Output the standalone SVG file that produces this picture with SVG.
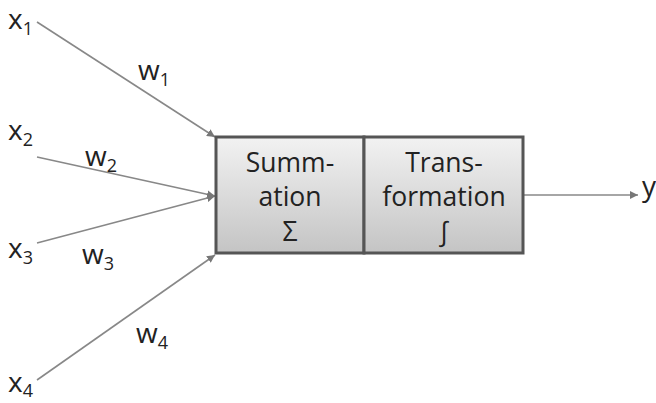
<svg xmlns="http://www.w3.org/2000/svg" width="656" height="403" viewBox="0 0 656 403">
<style>
text{font-family:"Open Sans","Liberation Sans",sans-serif;fill:#222;}
.lbl{font-size:28px;}
.sub{font-size:18px;}
.box{font-size:26.5px;text-anchor:middle;}
.conn{stroke:#888;stroke-width:1.6;fill:none;marker-end:url(#ah);}
.cell{fill:url(#g);stroke:#555;stroke-width:3;}
</style>
<defs>
<linearGradient id="g" x1="0" y1="0" x2="0" y2="1">
<stop offset="0" stop-color="#f2f2f2"/>
<stop offset="1" stop-color="#c4c4c4"/>
</linearGradient>
<marker id="ah" viewBox="0 0 10 10" refX="10" refY="5" markerWidth="8" markerHeight="8" markerUnits="userSpaceOnUse" orient="auto">
<path d="M0,0 L10,5 L0,10 z" fill="#777"/>
</marker>
</defs>
<g id="connectors">
<line class="conn" x1="37" y1="22" x2="215" y2="137"/>
<line class="conn" x1="37" y1="157" x2="215" y2="196"/>
<line class="conn" x1="37" y1="243" x2="215" y2="196"/>
<line class="conn" x1="37" y1="380" x2="215" y2="255"/>
<line class="conn" x1="524" y1="195" x2="638" y2="195"/>
</g>
<g id="summation">
<rect class="cell" x="216" y="137" width="148" height="116"/>
<text class="box" x="290" y="172">Summ-</text>
<text class="box" x="290" y="206">ation</text>
<text class="box" x="290" y="241">Σ</text>
</g>
<g id="transformation">
<rect class="cell" x="364" y="137" width="159" height="116"/>
<text class="box" x="444" y="172">Trans-</text>
<text class="box" x="444" y="206">formation</text>
<text class="box" x="444" y="241">∫</text>
</g>
<g id="x1"><text class="lbl" x="8" y="29">x<tspan class="sub" dy="6">1</tspan></text></g>
<g id="x2"><text class="lbl" x="8" y="140">x<tspan class="sub" dy="6">2</tspan></text></g>
<g id="x3"><text class="lbl" x="8" y="258">x<tspan class="sub" dy="6">3</tspan></text></g>
<g id="x4"><text class="lbl" x="8" y="392">x<tspan class="sub" dy="5">4</tspan></text></g>
<g id="w1"><text class="lbl" x="138" y="80">w<tspan class="sub" dy="6">1</tspan></text></g>
<g id="w2"><text class="lbl" x="85" y="166">w<tspan class="sub" dy="6">2</tspan></text></g>
<g id="w3"><text class="lbl" x="82" y="264">w<tspan class="sub" dy="6">3</tspan></text></g>
<g id="w4"><text class="lbl" x="136" y="343">w<tspan class="sub" dy="6">4</tspan></text></g>
<g id="y"><text class="lbl" x="642" y="196">y</text></g>
</svg>
